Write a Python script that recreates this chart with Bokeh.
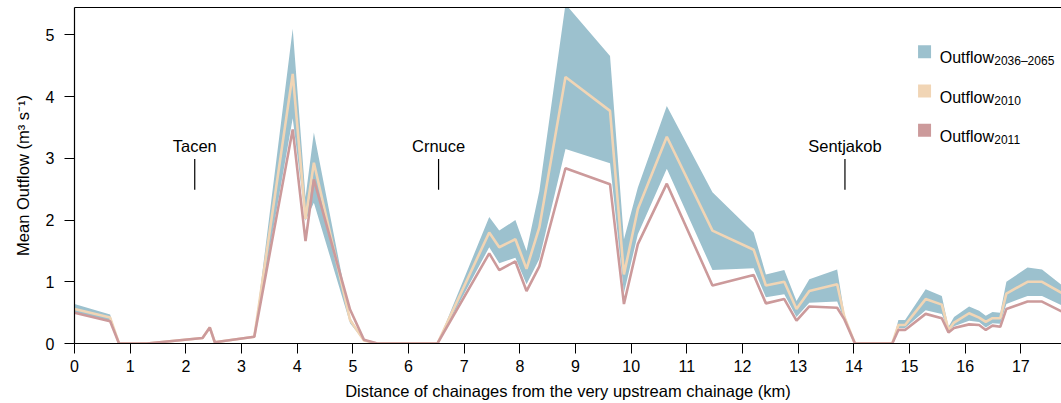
from bokeh.plotting import figure
from bokeh.models import Range1d, LinearAxis, FixedTicker
from bokeh.core.properties import value
from bokeh.embed import file_html
from bokeh.resources import INLINE

# ---- data (km from the upstream chainage, mean outflow m3/s) ----
km = [0.00, 0.64, 0.80, 1.30, 2.30, 2.43, 2.52, 3.23, 3.92, 4.15, 4.30, 4.95, 5.20, 5.44,
      6.52, 7.45, 7.63, 7.92, 8.12, 8.35, 8.82, 9.62, 9.87, 10.12, 10.64, 11.46, 12.20,
      12.42, 12.75, 12.97, 13.20, 13.70, 13.83, 14.02, 14.69, 14.80, 14.92, 15.29, 15.58,
      15.70, 15.80, 16.07, 16.25, 16.37, 16.49, 16.63, 16.74, 17.12, 17.38, 17.73]
future_high = [0.64, 0.47, 0.00, 0.00, 0.09, 0.26, 0.02, 0.11, 5.10, 2.37, 3.42, 0.42, 0.05, 0.00,
               0.00, 2.05, 1.83, 2.00, 1.50, 2.47, 5.50, 4.66, 1.69, 2.53, 3.85, 2.45, 1.80,
               1.12, 1.19, 0.69, 1.04, 1.20, 0.48, 0.00, 0.00, 0.38, 0.38, 0.88, 0.77,
               0.27, 0.43, 0.60, 0.53, 0.45, 0.51, 0.50, 1.00, 1.23, 1.20, 0.95]
future_low = [0.50, 0.36, 0.00, 0.00, 0.09, 0.26, 0.02, 0.11, 3.65, 1.99, 2.28, 0.33, 0.04, 0.00,
              0.00, 1.56, 1.30, 1.39, 0.96, 1.37, 3.15, 2.92, 0.82, 1.77, 2.83, 1.19, 1.22,
              0.75, 0.80, 0.43, 0.66, 0.68, 0.38, 0.00, 0.00, 0.25, 0.25, 0.54, 0.48,
              0.21, 0.28, 0.37, 0.35, 0.26, 0.33, 0.32, 0.64, 0.77, 0.77, 0.62]
outflow_2010 = [0.56, 0.42, 0.00, 0.00, 0.09, 0.26, 0.02, 0.11, 4.37, 2.02, 2.93, 0.38, 0.05, 0.00,
                0.00, 1.80, 1.56, 1.69, 1.21, 1.88, 4.32, 3.77, 1.12, 2.18, 3.35, 1.83, 1.52,
                0.94, 1.00, 0.56, 0.85, 0.96, 0.43, 0.00, 0.00, 0.30, 0.30, 0.72, 0.63,
                0.22, 0.34, 0.49, 0.42, 0.35, 0.41, 0.41, 0.81, 1.00, 1.00, 0.82]
outflow_2011 = [0.50, 0.36, 0.00, 0.00, 0.09, 0.26, 0.02, 0.11, 3.47, 1.66, 2.66, 0.55, 0.06, 0.00,
                0.00, 1.46, 1.19, 1.33, 0.85, 1.25, 2.84, 2.58, 0.64, 1.61, 2.59, 0.94, 1.11,
                0.65, 0.72, 0.37, 0.60, 0.58, 0.39, 0.00, 0.00, 0.22, 0.22, 0.48, 0.41,
                0.18, 0.25, 0.31, 0.30, 0.22, 0.29, 0.27, 0.56, 0.68, 0.68, 0.52]
x_ticks = list(range(0, 18))
y_ticks = [0, 1, 2, 3, 4, 5]
site_names = ["Tacen", "Crnuce", "Sentjakob"]
site_km = [2.16, 6.54, 13.84]
legend_main = ["Outflow", "Outflow", "Outflow"]
legend_sub = ["2036\u20132065", "2010", "2011"]

FONT = "Liberation Sans"
BLUE = "#9CC1CE"
BEIGE = "#F1D5B5"
RED = "#CC9A9B"

p = figure(width=1061, height=403, x_range=Range1d(0, 17.73), y_range=Range1d(0, 5.445),
           output_backend="svg", toolbar_location=None,
           min_border_left=74, min_border_right=0, min_border_top=7, min_border_bottom=60)
p.outline_line_color = None
p.grid.visible = False

p.varea(x=km, y1=future_low, y2=future_high, fill_color=BLUE)
p.line(km, outflow_2010, line_color=BEIGE, line_width=2.6)
p.line(km, outflow_2011, line_color=RED, line_width=2.6)

for ax in (p.xaxis[0], p.yaxis[0]):
    ax.axis_line_color = "black"
    ax.axis_line_width = 1.2
    ax.major_tick_line_color = "black"
    ax.major_tick_out = 10
    ax.major_tick_in = 0
    ax.minor_tick_line_color = None
    ax.major_label_text_font = FONT
    ax.major_label_text_font_size = "16px"
    ax.major_label_text_color = "black"
    ax.axis_label_text_font = FONT
    ax.axis_label_text_font_size = "16.5px"
    ax.axis_label_text_font_style = "normal"
    ax.axis_label_text_color = "black"

p.xaxis.ticker = FixedTicker(ticks=x_ticks)
p.yaxis.ticker = FixedTicker(ticks=y_ticks)
p.xaxis.major_label_standoff = 6
p.yaxis.major_label_standoff = 10
p.xaxis.axis_label = "Distance of chainages from the very upstream chainage (km)"
p.yaxis.axis_label = "Mean Outflow (m\u00b3 s\u207b\u00b9)"
p.xaxis.axis_label_standoff = 7
p.yaxis.axis_label_standoff = 11

top = LinearAxis(ticker=FixedTicker(ticks=[]), axis_line_color="black", axis_line_width=1.2,
                 major_tick_line_color=None, minor_tick_line_color=None,
                 major_tick_out=0, minor_tick_out=0, major_label_standoff=0)
p.add_layout(top, "above")

# site annotations
p.text(x=site_km, y=[3.204] * 3, text=site_names, text_align="center",
       text_baseline="alphabetic", text_font=value(FONT), text_font_size="16.5px",
       text_color="black")
p.segment(x0=site_km, y0=[2.49] * 3, x1=site_km, y1=[2.99] * 3,
          line_color="black", line_width=1.2)

# legend
leg_x_sq = 15.27
leg_x_txt = 15.543
leg_y_sq = [4.728, 4.091, 3.455]
leg_y_base = [4.631, 3.994, 3.358]
p.rect(x=[leg_x_sq] * 3, y=leg_y_sq, width=13, height=13, width_units="screen",
       height_units="screen", fill_color=[BLUE, BEIGE, RED], line_color=None)
p.text(x=[leg_x_txt] * 3, y=leg_y_base, text=legend_main, text_align="left",
       text_baseline="alphabetic", text_font=value(FONT), text_font_size="16px",
       text_color="black")
p.text(x=[leg_x_txt] * 3, y=leg_y_base, text=legend_sub, text_align="left",
       text_baseline="alphabetic", text_font=value(FONT), text_font_size="12px",
       text_color="black", x_offset=54.5, y_offset=3)

open("out.html", "w").write(file_html(p, INLINE))
